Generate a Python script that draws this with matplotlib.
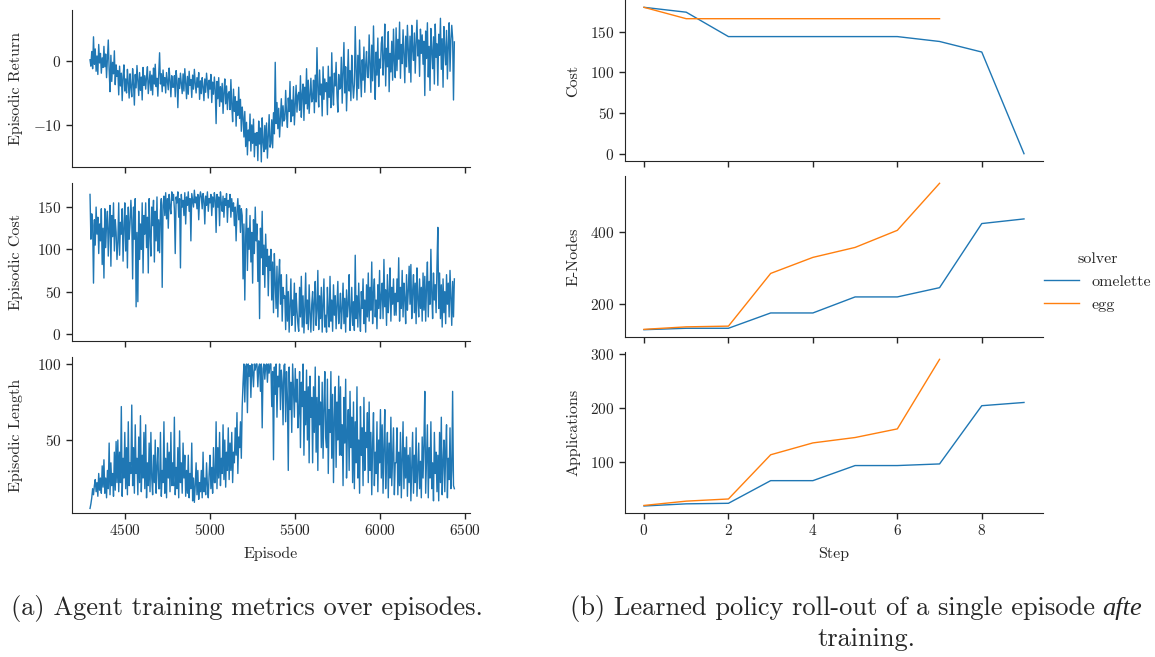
import numpy as np
import matplotlib
matplotlib.use('Agg')
import matplotlib.pyplot as plt

# --- training metrics (left), ~5 episodes per value ---
ep_start, ep_end = 4294, 6437

episodic_return = [
    0.2, -0.8, 1.5, -1.2, 3.8, -0.5, 1.9, -1.6, 0.8, -2.1, 2.6, -0.3, 1.2, -1.9, 0.5, -1.0,
    2.3, -0.9, 1.1, -2.6, 0.4, 3.3, -1.4, -4.8, 0.9, -3.2, -0.2, -2.0, 1.6, -3.7, -0.6, -2.4,
    -1.5, -5.3, -0.8, -3.9, -1.9, -6.2, -2.4, -0.6, -4.7, -2.8, -5.0, -1.3, -3.4, -5.8, -2.0, -4.1,
    -5.6, -1.2, -3.5, -6.9, -2.1, -4.2, -0.7, -3.1, -5.4, -1.8, -4.6, -2.5, -6.1, -1.0, -3.8, -2.3,
    -4.4, -2.5, -0.9, -5.1, -3.3, -1.6, -4.6, -2.2, -5.3, -1.1, -3.6, -0.5, -4.0, -2.7, -5.5, -1.9,
    1.3, -3.6, -2.0, -4.8, -1.4, -3.9, -2.6, -5.0, -1.8, -3.2, -4.5, -1.1, -3.0, -5.6, -2.3, -4.1,
    -4.1, -2.3, -5.6, -1.5, -3.0, -7.3, -2.7, -4.3, -1.9, -3.6, -5.1, -2.0, -4.7, -1.2, -3.4, -5.9,
    -2.4, -5.2, -1.6, -3.8, -2.9, -5.7, -2.2, -4.4, -1.3, -3.5, -5.0, -2.6, -4.1, -1.8, -6.0, -3.1,
    -5.1, -2.6, -4.0, -6.2, -2.8, -4.9, -1.9, -3.7, -5.8, -3.0, -4.4, -2.1, -6.5, -3.3, -5.2, -2.5,
    -4.5, -9.8, -3.2, -5.9, -2.6, -7.1, -4.0, -6.4, -3.5, -8.2, -4.9, -2.8, -6.7, -3.9, -7.6, -5.1,
    -4.8, -7.6, -2.9, -6.8, -9.5, -4.4, -7.9, -5.6, -10.2, -6.3, -8.5, -4.1, -9.0, -6.0, -11.0, -7.2,
    -8.8, -11.9, -7.9, -13.4, -9.6, -14.7, -10.8, -12.5, -8.3, -14.1, -10.0, -12.9, -9.1, -15.0, -11.3, -13.2,
    -11.2, -15.6, -9.4, -13.0, -10.5, -15.8, -8.9, -12.7, -14.2, -10.1, -13.8, -9.7, -15.2, -11.6, -8.4, -13.5,
    -12.9, -9.2, -13.6, -8.1, -11.4, -0.2, -9.8, -6.5, -10.6, -7.4, -11.9, -8.7, -5.9, -10.2, -7.0, -9.4,
    -9.1, -4.6, -8.3, -10.4, -5.8, -7.9, -3.2, -9.5, -6.1, -8.6, -4.0, -10.0, -6.8, -3.8, -8.0, -5.4,
    -4.9, -7.7, -2.3, -8.8, -5.2, -3.6, -9.3, -4.1, -6.7, -1.2, -7.5, -3.0, -8.2, -5.6, -2.7, -6.4,
    -5.9, -3.0, -8.1, -2.2, -6.4, 2.1, -4.5, -7.2, -1.4, -5.3, -3.6, -8.6, -0.9, -6.0, -2.8, -4.8,
    -3.4, -8.4, -0.8, -5.7, -2.5, -7.3, 1.3, -4.6, -6.9, -1.9, -3.9, -0.2, -5.2, -8.0, -2.1, -4.4,
    -4.2, 0.6, -6.6, -2.1, 2.9, -5.0, -0.9, -7.8, -2.8, 1.8, -4.7, -1.5, -6.2, 0.9, -3.3, -5.8,
    -3.7, 5.4, -1.4, -6.1, 0.9, -4.3, 3.3, -2.0, -5.6, 0.2, -3.0, 2.2, -4.9, -0.6, 1.5, -2.5,
    -2.6, 4.1, -0.7, -4.9, 2.5, -3.1, 5.5, -1.6, -6.0, 1.4, -2.2, 3.6, -4.0, 0.3, -1.1, 2.8,
    3.8, -2.2, 0.5, 5.8, -3.9, 2.0, -0.9, 4.6, -4.8, 1.2, -1.7, 3.1, -3.0, 5.0, 0.0, -2.6,
    5.2, -1.5, 3.4, 0.3, 6.1, -2.7, 2.6, -0.4, 4.9, 1.0, -3.4, 3.9, -0.9, 5.6, 1.7, -1.8,
    3.9, -3.3, 5.6, 1.8, 0.1, 4.4, -1.9, 2.9, 6.4, 0.8, 3.3, -2.4, 5.0, 1.2, 4.1, -0.5,
    3.1, -5.4, 4.7, 0.4, 6.0, -2.5, 2.3, -4.6, 5.1, 1.6, -1.2, 3.8, -3.6, 5.8, 0.6, 2.7,
    -3.8, 4.2, 0.9, 6.7, -1.3, 3.5, -4.1, 5.4, 1.9, -0.6, 4.8, -2.8, 2.4, 6.0, -1.6, 3.2,
    5.6, 3.6, -6.1, 3.0,
]

episodic_cost = [
    165, 112, 142, 128, 60, 135, 105, 150, 118, 138, 95, 130, 110, 148, 82, 125,
    66, 148, 102, 130, 145, 92, 125, 152, 80, 140, 115, 155, 98, 135, 120, 88,
    108, 155, 93, 132, 118, 148, 86, 126, 155, 98, 140, 78, 150, 112, 130, 158,
    135, 65, 150, 112, 160, 32, 120, 38, 145, 88, 130, 100, 155, 72, 140, 118,
    155, 102, 138, 72, 160, 118, 92, 150, 128, 158, 85, 145, 110, 162, 98, 135,
    96, 145, 160, 55, 152, 163, 140, 167, 136, 160, 125, 165, 150, 142, 168, 158,
    165, 148, 95, 162, 155, 168, 138, 160, 78, 165, 150, 158, 140, 167, 130, 162,
    152, 168, 145, 160, 110, 166, 158, 150, 170, 155, 162, 148, 165, 135, 160, 168,
    162, 148, 166, 158, 130, 163, 152, 168, 145, 160, 155, 165, 140, 162, 150, 167,
    158, 120, 165, 150, 162, 128, 168, 155, 145, 163, 138, 160, 152, 166, 132, 158,
    150, 165, 138, 160, 145, 155, 128, 150, 110, 145, 160, 135, 152, 120, 148, 140,
    65, 130, 40, 115, 148, 75, 125, 100, 140, 85, 120, 60, 135, 95, 150, 110,
    130, 62, 110, 18, 125, 90, 145, 70, 105, 55, 118, 80, 100, 45, 92, 75,
    100, 40, 85, 25, 95, 60, 30, 80, 20, 65, 88, 35, 70, 15, 55, 42,
    45, 5, 70, 15, 50, 2, 35, 65, 10, 40, 22, 60, 3, 48, 28, 12,
    3, 55, 20, 68, 8, 45, 1, 30, 72, 12, 40, 5, 58, 25, 2, 35,
    50, 4, 38, 62, 10, 28, 75, 5, 45, 18, 55, 2, 32, 65, 8, 22,
    2, 55, 25, 8, 68, 15, 40, 3, 58, 22, 45, 6, 35, 62, 12, 28,
    48, 6, 30, 60, 12, 42, 2, 52, 20, 35, 70, 4, 25, 55, 10, 38,
    4, 93, 18, 45, 8, 60, 25, 3, 50, 30, 65, 12, 40, 2, 58, 20,
    72, 15, 55, 28, 85, 12, 48, 65, 20, 40, 6, 58, 30, 75, 18, 45,
    60, 18, 88, 32, 52, 10, 70, 25, 45, 78, 15, 55, 35, 65, 22, 48,
    22, 65, 38, 90, 15, 55, 30, 75, 20, 60, 42, 12, 70, 28, 50, 80,
    35, 82, 18, 50, 70, 25, 60, 12, 78, 42, 20, 65, 30, 55, 15, 72,
    28, 68, 15, 55, 85, 20, 62, 35, 100, 48, 18, 72, 40, 58, 25, 80,
    126, 30, 72, 18, 58, 8, 65, 25, 50, 12, 70, 35, 60, 20, 75, 42,
    10, 62, 20, 65,
]

episodic_length = [
    5, 8, 12, 18, 14, 20, 24, 16, 22, 13, 28, 17, 25, 15, 33, 19,
    37, 15, 25, 12, 30, 18, 48, 14, 35, 20, 28, 13, 42, 17, 49, 22,
    50, 16, 42, 22, 72, 13, 38, 25, 55, 18, 45, 14, 62, 20, 35, 28,
    73, 20, 45, 15, 60, 28, 38, 14, 52, 22, 66, 16, 40, 25, 55, 18,
    60, 12, 35, 20, 48, 16, 55, 25, 14, 40, 22, 50, 15, 32, 45, 18,
    18, 55, 13, 30, 22, 62, 15, 38, 12, 48, 25, 42, 16, 55, 20, 35,
    20, 65, 14, 32, 18, 45, 12, 56, 22, 35, 15, 48, 25, 40, 13, 30,
    15, 40, 12, 28, 18, 48, 10, 25, 9, 20, 35, 14, 30, 11, 22, 16,
    30, 12, 42, 16, 25, 14, 35, 20, 12, 28, 40, 18, 32, 15, 45, 22,
    22, 62, 18, 45, 25, 55, 20, 38, 28, 60, 24, 50, 19, 42, 30, 58,
    24, 48, 30, 55, 22, 42, 35, 58, 40, 68, 28, 52, 45, 62, 38, 72,
    88, 100, 75, 98, 100, 68, 100, 92, 99, 78, 100, 95, 85, 100, 96, 100,
    100, 85, 98, 100, 82, 100, 58, 97, 100, 90, 99, 100, 88, 100, 94, 100,
    100, 72, 95, 37, 98, 80, 100, 65, 92, 85, 100, 70, 96, 88, 60, 99,
    100, 62, 95, 78, 30, 98, 70, 88, 55, 100, 82, 65, 97, 75, 90, 58,
    68, 95, 45, 88, 72, 100, 40, 82, 60, 96, 50, 85, 35, 92, 65, 78,
    35, 85, 55, 98, 42, 78, 30, 92, 60, 75, 45, 88, 38, 70, 95, 52,
    45, 90, 28, 70, 55, 95, 38, 80, 22, 65, 85, 32, 75, 50, 92, 40,
    85, 40, 60, 20, 78, 48, 90, 25, 55, 70, 30, 82, 45, 65, 22, 75,
    18, 62, 35, 85, 25, 50, 15, 72, 40, 58, 20, 78, 30, 55, 45, 68,
    22, 75, 30, 55, 14, 48, 68, 20, 42, 28, 62, 16, 50, 35, 70, 25,
    60, 15, 45, 70, 18, 38, 55, 12, 48, 25, 65, 20, 40, 58, 14, 35,
    35, 58, 14, 42, 20, 55, 12, 38, 62, 18, 45, 25, 52, 13, 40, 22,
    45, 10, 32, 55, 15, 40, 22, 58, 13, 30, 48, 18, 36, 12, 52, 25,
    48, 82, 15, 38, 60, 12, 45, 25, 62, 18, 35, 10, 55, 28, 42, 16,
    40, 10, 55, 22, 65, 14, 35, 50, 16, 42, 60, 12, 38, 24, 58, 18,
    30, 82, 20, 18,
]

# --- policy roll-out (right) ---
steps_omelette = list(range(10))
steps_egg = list(range(8))
cost_omelette = [180, 174, 144, 144, 144, 144, 144, 138, 125, 0]
cost_egg = [180, 166, 166, 166, 166, 166, 166, 166]
enodes_omelette = [127, 131, 131, 174, 174, 219, 219, 245, 425, 438]
enodes_egg = [128, 135, 137, 285, 330, 358, 406, 538]
apps_omelette = [18, 22, 23, 65, 65, 93, 93, 96, 204, 210]
apps_egg = [19, 27, 31, 113, 135, 145, 161, 290]

# style: LaTeX-looking serif, seaborn-ish ticks
plt.rcParams['font.family'] = 'serif'
plt.rcParams['font.serif'] = ['cmr10']
plt.rcParams['mathtext.fontset'] = 'cm'
plt.rcParams['axes.formatter.use_mathtext'] = True
plt.rcParams['text.color'] = '.15'
plt.rcParams['axes.labelcolor'] = '.15'
plt.rcParams['axes.edgecolor'] = '.15'
plt.rcParams['xtick.color'] = '.15'
plt.rcParams['ytick.color'] = '.15'
plt.rcParams['font.size'] = 11.5

W, H = 1155, 657
fig = plt.figure(figsize=(W / 100, H / 100), dpi=100)


def px_axes(x0, y0, x1, y1):
    # pixel box (top-left origin) -> figure fraction axes
    ax = fig.add_axes([x0 / W, 1 - y1 / H, (x1 - x0) / W, (y1 - y0) / H])
    ax.spines['top'].set_visible(False)
    ax.spines['right'].set_visible(False)
    ax.tick_params(labelsize=11, length=4, width=1)
    return ax


episodes = np.linspace(ep_start, ep_end, len(episodic_return))

left = [
    (px_axes(72, 10, 470, 167), episodic_return, 'Episodic Return', (-16.6, 8.0), [-10, 0]),
    (px_axes(72, 183, 470, 341), episodic_cost, 'Episodic Cost', (-8.5, 178.5), [0, 50, 100, 150]),
    (px_axes(72, 357, 470, 513), episodic_length, 'Episodic Length', (2, 104.6), [50, 100]),
]
for i, (ax, vals, label, ylim, yt) in enumerate(left):
    ax.plot(episodes, vals, color='#1f77b4', lw=1.0)
    ax.set_xlim(4188, 6529)
    ax.set_ylim(*ylim)
    ax.set_yticks(yt)
    ax.set_xticks([4500, 5000, 5500, 6000, 6500])
    ax.set_ylabel(label)
    ax.yaxis.set_label_coords(-0.122, 0.5)
    if i < 2:
        ax.tick_params(labelbottom=False)
left[2][0].set_xlabel('Episode')
left[2][0].xaxis.set_label_coords(0.5, -0.215)

right = [
    (px_axes(625, 0, 1043, 161), cost_omelette, cost_egg, 'Cost', (-9, 189), [0, 50, 100, 150]),
    (px_axes(625, 176, 1043, 337), enodes_omelette, enodes_egg, 'E-Nodes', (106.5, 558.5), [200, 400]),
    (px_axes(625, 352, 1043, 513), apps_omelette, apps_egg, 'Applications', (5, 303.6), [100, 200, 300]),
]
for i, (ax, om, eg, label, ylim, yt) in enumerate(right):
    ax.plot(steps_omelette, om, color='#1f77b4', lw=1.0, label='omelette')
    ax.plot(steps_egg, eg, color='#ff7f0e', lw=1.0, label='egg')
    ax.set_xlim(-0.45, 9.45)
    ax.set_ylim(*ylim)
    ax.set_yticks(yt)
    ax.set_xticks([0, 2, 4, 6, 8])
    ax.set_ylabel(label)
    ax.yaxis.set_label_coords(-0.107, 0.5)
    if i < 2:
        ax.tick_params(labelbottom=False)
right[2][0].set_xlabel('Step')
right[2][0].xaxis.set_label_coords(0.5, -0.21)

handles, labels = right[1][0].get_legend_handles_labels()
fig.legend(handles, labels, title='solver', loc='center left',
           bbox_to_anchor=(1044 / W, 1 - 282 / H), frameon=False,
           fontsize=11.5, title_fontsize=11.5, handlelength=2.2,
           handletextpad=0.8, borderaxespad=0, borderpad=0, labelspacing=0.55)

# captions
fig.text(11 / W, 1 - 608 / H, '(a) Agent training metrics over episodes.',
         fontsize=19, va='center', ha='left')
cap_b = fig.text(570 / W, 1 - 608 / H, '(b) Learned policy roll-out of a single episode',
                 fontsize=19, va='center', ha='left')
fig.canvas.draw()
bb = cap_b.get_window_extent()
fig.text((bb.x1 + 7) / W, 1 - 608 / H, 'afte', fontsize=19, va='center', ha='left',
         family='Liberation Serif', style='italic')
fig.text(866 / W, 1 - 639 / H, 'training.', fontsize=19, va='center', ha='center')

fig.savefig('out.png', dpi=100)
